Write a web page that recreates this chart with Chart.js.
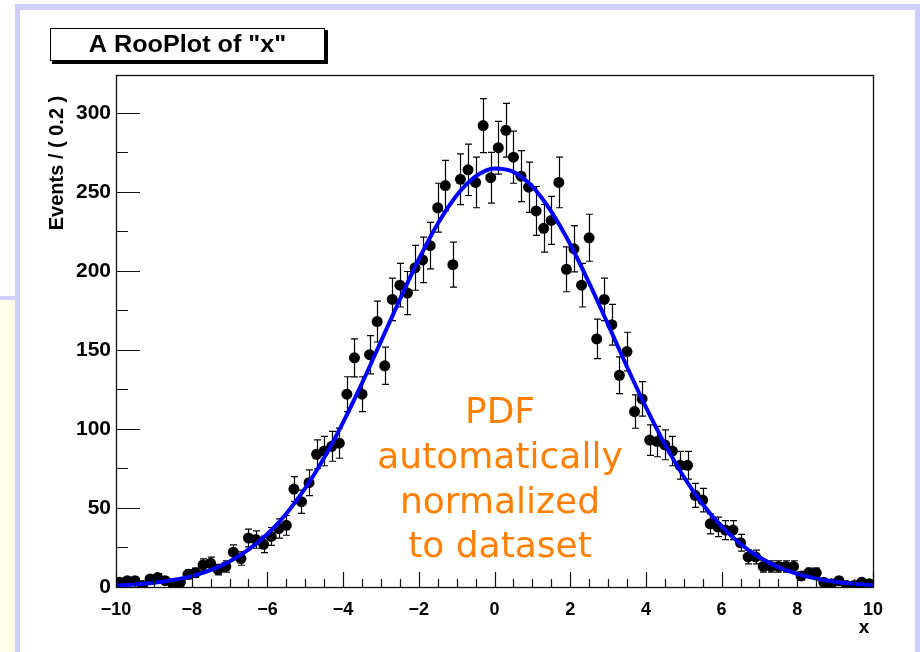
<!DOCTYPE html>
<html>
<head>
<meta charset="utf-8">
<script src="https://cdn.jsdelivr.net/npm/chart.js@4.4.1/dist/chart.umd.min.js"></script>
<style>
  html, body { margin: 0; padding: 0; background: #ffffff; }
  canvas { display: block; }
</style>
</head>
<body>
<canvas id="c" width="920" height="652"></canvas>
<script>
// ---- data ----
const plotTitle = 'A RooPlot of "x"';
const yAxisTitle = 'Events / ( 0.2 )';
const xAxisTitle = 'x';
const annotationLines = ['PDF', 'automatically', 'normalized', 'to dataset'];

// bin centres (bin width 0.2)
const binCenters = [
  -9.9, -9.7, -9.5, -9.3, -9.1, -8.9, -8.7, -8.5, -8.3, -8.1,
  -7.9, -7.7, -7.5, -7.3, -7.1, -6.9, -6.7, -6.5, -6.3, -6.1,
  -5.9, -5.7, -5.5, -5.3, -5.1, -4.9, -4.7, -4.5, -4.3, -4.1,
  -3.9, -3.7, -3.5, -3.3, -3.1, -2.9, -2.7, -2.5, -2.3, -2.1,
  -1.9, -1.7, -1.5, -1.3, -1.1, -0.9, -0.7, -0.5, -0.3, -0.1,
  0.1, 0.3, 0.5, 0.7, 0.9, 1.1, 1.3, 1.5, 1.7, 1.9,
  2.1, 2.3, 2.5, 2.7, 2.9, 3.1, 3.3, 3.5, 3.7, 3.9,
  4.1, 4.3, 4.5, 4.7, 4.9, 5.1, 5.3, 5.5, 5.7, 5.9,
  6.1, 6.3, 6.5, 6.7, 6.9, 7.1, 7.3, 7.5, 7.7, 7.9,
  8.1, 8.3, 8.5, 8.7, 8.9, 9.1, 9.3, 9.5, 9.7, 9.9
];

// events per bin
const eventCounts = [
  3, 4, 4, 1, 5, 6, 4, 2, 3, 8,
  9, 14, 15, 11, 13, 22, 18, 31, 30, 27,
  32, 37, 39, 62, 54, 66, 84, 86, 89, 91,
  122, 145, 122, 147, 168, 140, 182, 191, 186, 202,
  207, 216, 240, 254, 204, 258, 264, 256, 292, 259,
  278, 289, 272, 260, 253, 238, 227, 232, 256, 201,
  214, 191, 221, 157, 182, 166, 134, 149, 111, 119,
  93, 92, 90, 86, 77, 77, 58, 55, 40, 38,
  36, 36, 28, 19, 19, 13, 13, 13, 13, 13,
  7, 9, 9, 3, 2, 4, 1, 1, 3, 2
];

// fitted PDF curve, every 0.5
const curveX = [
  -10, -9.5, -9, -8.5, -8, -7.5, -7, -6.5, -6, -5.5,
  -5, -4.5, -4, -3.5, -3, -2.5, -2, -1.5, -1, -0.5,
  0, 0.5, 1, 1.5, 2, 2.5, 3, 3.5, 4, 4.5,
  5, 5.5, 6, 6.5, 7, 7.5, 8, 8.5, 9, 9.5, 10
];
const curveY = [
  0.9, 1.6, 2.7, 4.4, 6.9, 10.7, 16.1, 23.6, 33.5, 46.4,
  62.5, 81.8, 104.2, 129.0, 155.4, 182.0, 207.4, 229.9, 247.8, 259.8,
  264.9, 262.7, 253.3, 237.6, 216.9, 192.4, 166.1, 139.4, 113.8, 90.4,
  69.8, 52.4, 38.3, 27.2, 18.8, 12.6, 8.3, 5.3, 3.3, 2.0, 1.1
];

const xMin = -10, xMax = 10, xMajorStep = 2, xMinorStep = 0.5;
const yMin = 0, yMax = 324, yMajorStep = 50, yMinorStep = 25;

// ---- styling ----
const FONT = '"Liberation Sans", Arial, Helvetica, sans-serif';

const decoPlugin = {
  id: 'deco',
  beforeDraw(chart) {
    const c = chart.ctx;
    c.save();
    c.fillStyle = '#ffffff';
    c.fillRect(0, 0, chart.width, chart.height);
    // slide decorations
    c.fillStyle = '#fffde8';
    c.fillRect(0, 299, 16, chart.height - 299);
    c.fillStyle = '#cfcff9';
    c.fillRect(0, 296, 17, 4);
    c.fillRect(15, 4, chart.width - 15, 6);
    c.fillRect(15, 4, 5, chart.height - 4);
    c.fillRect(915, 4, 5, chart.height - 4);

    // title box with shadow
    c.fillStyle = '#000';
    c.fillRect(52, 30, 276, 34);
    c.fillStyle = '#fff';
    c.fillRect(50, 28, 275, 33);
    c.strokeStyle = '#000';
    c.lineWidth = 1;
    c.strokeRect(50.5, 28.5, 274, 32);
    c.fillStyle = '#000';
    c.font = 'bold 24px ' + FONT;
    c.textAlign = 'center';
    c.textBaseline = 'middle';
    c.save();
    c.translate(187.5, 45);
    c.scale(1.05, 1);
    c.fillText(plotTitle, 0, 0);
    c.restore();

    // y axis title
    c.save();
    c.translate(57, 163);
    c.rotate(-Math.PI / 2);
    c.font = 'bold 20px ' + FONT;
    c.textAlign = 'center';
    c.textBaseline = 'middle';
    c.fillText(yAxisTitle, 0, 0);
    c.restore();

    // x axis title
    c.font = 'bold 19px ' + FONT;
    c.textAlign = 'center';
    c.textBaseline = 'middle';
    c.fillText(xAxisTitle, 864, 628);
    c.restore();
  },
  beforeDatasetsDraw(chart) {
    // error bars (sqrt N)
    const c = chart.ctx;
    const xs = chart.scales.x, ys = chart.scales.y;
    const a = chart.chartArea;
    c.save();
    c.beginPath();
    c.rect(a.left, a.top, a.right - a.left, a.bottom - a.top);
    c.clip();
    c.strokeStyle = '#000';
    c.lineWidth = 1.2;
    for (let i = 0; i < binCenters.length; i++) {
      const n = eventCounts[i];
      const e = Math.sqrt(n);
      const px = Math.round(xs.getPixelForValue(binCenters[i])) + 0.5;
      const pt = ys.getPixelForValue(n + e);
      const pb = ys.getPixelForValue(Math.max(n - e, 0));
      c.beginPath();
      c.moveTo(px, pt); c.lineTo(px, pb);
      c.moveTo(px - 3.5, pt); c.lineTo(px + 3.5, pt);
      c.moveTo(px - 3.5, pb); c.lineTo(px + 3.5, pb);
      c.stroke();
    }
    c.restore();
  },
  afterDraw(chart) {
    const c = chart.ctx;
    const xs = chart.scales.x, ys = chart.scales.y;
    const a = chart.chartArea;
    c.save();
    // frame
    c.strokeStyle = '#111';
    c.lineWidth = 1.3;
    c.strokeRect(a.left + 0.5, a.top + 0.5, a.right - a.left, a.bottom - a.top);
    // inner ticks
    c.lineWidth = 1.2;
    c.beginPath();
    for (let v = yMin; v <= yMax + 1e-9; v += yMinorStep) {
      const py = Math.round(ys.getPixelForValue(v)) + 0.5;
      const len = (Math.abs(v % yMajorStep) < 1e-9) ? 24 : 12;
      c.moveTo(a.left, py); c.lineTo(a.left + len, py);
    }
    for (let v = xMin; v <= xMax + 1e-9; v += xMinorStep) {
      const px = Math.round(xs.getPixelForValue(v)) + 0.5;
      const r = Math.abs(v % xMajorStep);
      const len = (r < 1e-9 || Math.abs(r - xMajorStep) < 1e-9) ? 15 : 8;
      c.moveTo(px, a.bottom); c.lineTo(px, a.bottom - len);
    }
    c.stroke();

    // annotation
    c.fillStyle = '#ff8000';
    c.font = '36px "DejaVu Sans", Verdana, sans-serif';
    c.textAlign = 'center';
    c.textBaseline = 'alphabetic';
    const baselines = [423, 468, 513, 557];
    annotationLines.forEach((t, i) => c.fillText(t, 500, baselines[i]));
    c.restore();
  }
};

const minusFmt = v => (v < 0 ? '\u2212' + Math.abs(v) : String(v));

new Chart(document.getElementById('c'), {
  type: 'scatter',
  data: {
    datasets: [
      {
        label: 'PDF',
        data: curveX.map((x, i) => ({ x: x, y: curveY[i] })),
        showLine: true,
        borderColor: '#0000ff',
        borderWidth: 4,
        pointRadius: 0,
        cubicInterpolationMode: 'monotone',
        fill: false,
        order: 0
      },
      {
        label: 'data',
        data: binCenters.map((x, i) => ({ x: x, y: eventCounts[i] })),
        pointRadius: 5.5,
        pointBackgroundColor: '#000',
        pointBorderColor: '#000',
        pointBorderWidth: 0,
        order: 1
      }
    ]
  },
  options: {
    responsive: false,
    animation: false,
    devicePixelRatio: 1,
    layout: { padding: { left: 0, top: 75, right: 47, bottom: 0 } },
    plugins: { legend: { display: false }, tooltip: { enabled: false } },
    scales: {
      x: {
        type: 'linear',
        min: xMin, max: xMax,
        afterFit(s) { s.height = 65; },
        grid: { display: false, drawTicks: false },
        border: { display: false },
        ticks: {
          stepSize: xMajorStep,
          padding: 12,
          autoSkip: false,
          maxRotation: 0,
          color: '#000',
          font: { family: FONT, size: 18, weight: 'bold' },
          callback: minusFmt
        }
      },
      y: {
        type: 'linear',
        min: yMin, max: yMax,
        afterFit(s) { s.width = 116; },
        afterBuildTicks(s) { s.ticks = s.ticks.filter(t => t.value % yMajorStep === 0); },
        grid: { display: false, drawTicks: false },
        border: { display: false },
        ticks: {
          stepSize: yMajorStep,
          padding: 5,
          color: '#000',
          font: { family: FONT, size: 21, weight: 'bold' },
          callback: minusFmt
        }
      }
    }
  },
  plugins: [decoPlugin]
});
</script>
</body>
</html>
